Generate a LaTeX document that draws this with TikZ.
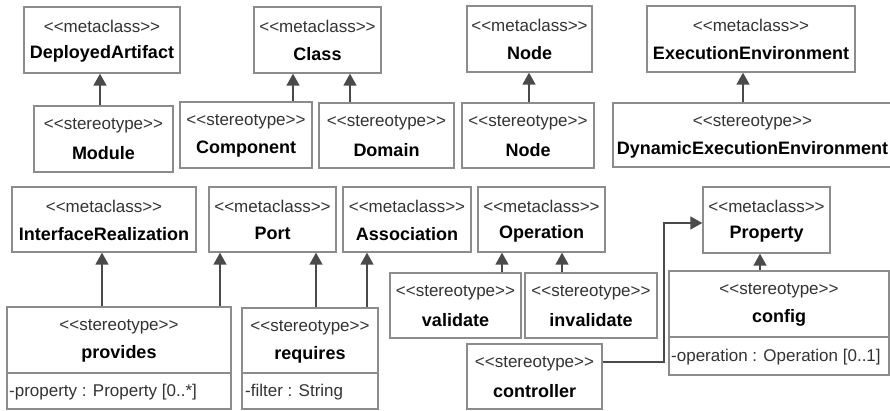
\documentclass[tikz,border=0pt]{standalone}
\usepackage{fontspec}
\newfontfamily\umlfont{Liberation Sans}
\usetikzlibrary{arrows.meta,fit}
\definecolor{boxc}{HTML}{8C8C8C}
\definecolor{linec}{HTML}{4A4A4A}
\definecolor{txtc}{HTML}{333333}
\tikzset{
  umlbox/.style={draw=boxc, line width=1.4pt, fill=white, inner sep=0pt},
  sttext/.style={font=\umlfont\fontsize{17}{19}\selectfont, text=txtc, inner sep=0pt},
  nametext/.style={font=\umlfont\fontsize{18}{20}\selectfont\bfseries, text=black, inner sep=0pt},
  attrtext/.style={font=\umlfont\fontsize{17}{19}\selectfont, text=txtc, inner sep=0pt, anchor=west},
  divider/.style={draw=boxc, line width=1.4pt},
  gen/.style={draw=linec, line width=1.6pt, -{Triangle[length=12pt,width=13pt]}}
}
\newcommand\umlclass[7]{%
  \node[umlbox, fit={(#2,#3)(#4,#5)}] (#1) {};
  \path (#1.north) ++(0,20) node[sttext] {<<#6>>};
  \path (#1.north) ++(0,47.5) node[nametext] {#7};
}
\begin{document}
\begin{tikzpicture}[x=1pt,y=-1pt]
\useasboundingbox[fill=white] (0,0) rectangle (890,411);

% row 1
\umlclass{da}{24}{7}{180}{73}{metaclass}{DeployedArtifact}
\umlclass{module}{34}{106}{173}{172}{stereotype}{Module}
\umlclass{cls}{254}{7}{381}{73}{metaclass}{Class}
\umlclass{comp}{180}{102}{312}{168}{stereotype}{Component}
\umlclass{dom}{319}{103}{454}{168}{stereotype}{Domain}
\umlclass{nodem}{467}{6}{592}{72}{metaclass}{Node}
\umlclass{nodes}{462}{103}{594}{168}{stereotype}{Node}
\umlclass{ee}{647}{6}{855}{72}{metaclass}{ExecutionEnvironment}
\umlclass{dee}{613}{103}{892}{167}{stereotype}{DynamicExecutionEnvironment}

% row 2
\umlclass{ir}{12}{187}{196}{252}{metaclass}{InterfaceRealization}
\umlclass{port}{209}{187}{336}{252}{metaclass}{Port}
\umlclass{assoc}{343}{187}{471}{252}{metaclass}{Association}
\umlclass{oper}{478}{187}{605}{252}{metaclass}{Operation}
\umlclass{prop}{703}{187}{830}{253}{metaclass}{Property}

\umlclass{prov}{7}{307}{231}{409}{stereotype}{provides}
\draw[divider] (prov.west |- 0,373) -- (prov.east |- 0,373);
\node[attrtext] at (9,392) {-property : Property [0..*]};

\umlclass{req}{242}{308}{378}{409}{stereotype}{requires}
\draw[divider] (req.west |- 0,373) -- (req.east |- 0,373);
\node[attrtext] at (245,392) {-filter : String};

\umlclass{valid}{390}{273}{521}{338}{stereotype}{validate}
\umlclass{inval}{525}{273}{657}{338}{stereotype}{invalidate}
\umlclass{ctrl}{467}{344}{602}{409}{stereotype}{controller}

\umlclass{conf}{669}{271}{889}{375}{stereotype}{config}
\draw[divider] (conf.west |- 0,337) -- (conf.east |- 0,337);
\node[attrtext] at (671,357) {-operation : Operation [0..1]};

% generalizations / extensions
\draw[gen] (module.north -| 100,0) -- (da.south -| 100,0);
\draw[gen] (comp.north -| 293,0) -- (cls.south -| 293,0);
\draw[gen] (dom.north -| 350,0) -- (cls.south -| 350,0);
\draw[gen] (nodes.north -| 529,0) -- (nodem.south -| 529,0);
\draw[gen] (dee.north -| 743,0) -- (ee.south -| 743,0);
\draw[gen] (prov.north -| 102,0) -- (ir.south -| 102,0);
\draw[gen] (prov.north -| 220,0) -- (port.south -| 220,0);
\draw[gen] (req.north -| 316,0) -- (port.south -| 316,0);
\draw[gen] (req.north -| 367,0) -- (assoc.south -| 367,0);
\draw[gen] (valid.north -| 502,0) -- (oper.south -| 502,0);
\draw[gen] (inval.north -| 562,0) -- (oper.south -| 562,0);
\draw[gen] (conf.north -| 760,0) -- (prop.south -| 760,0);
\draw[gen] (ctrl.east |- 0,362) -| (664,223) -- (prop.west |- 0,223);
\end{tikzpicture}
\end{document}
